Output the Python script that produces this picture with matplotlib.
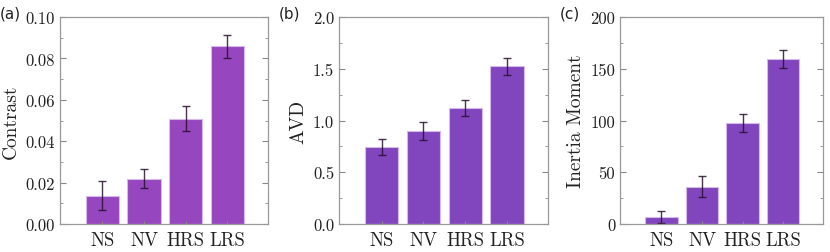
import matplotlib
matplotlib.use("Agg")
import matplotlib.pyplot as plt
import numpy as np
from matplotlib.ticker import MultipleLocator

plt.rcParams['font.family'] = 'serif'
plt.rcParams['font.serif'] = ['cmr10']
plt.rcParams['axes.formatter.use_mathtext'] = True
plt.rcParams['mathtext.fontset'] = 'cm'

categories = ["NS", "NV", "HRS", "LRS"]

contrast = [0.0137, 0.0218, 0.0508, 0.0858]
contrast_err = [0.0070, 0.0046, 0.0060, 0.0055]

avd = [0.742, 0.897, 1.123, 1.523]
avd_err = [0.080, 0.085, 0.075, 0.083]

inertia = [6.5, 36.1, 97.4, 159.7]
inertia_err = [6.0, 10.0, 8.5, 8.5]

panels = [
    ("(a)", "Contrast", contrast, contrast_err, (0, 0.10), 0.02, "#9646BE", lambda v, p: f"{v:.2f}"),
    ("(b)", "AVD", avd, avd_err, (0, 2.0), 0.5, "#8146BE", lambda v, p: f"{v:.1f}"),
    ("(c)", "Inertia Moment", inertia, inertia_err, (0, 200), 50, "#8146BE", lambda v, p: f"{v:.0f}"),
]

positions = [(60, 208), (339, 209), (620, 203)]
W, H = 830, 253
fig = plt.figure(figsize=(8.3, 2.53), dpi=100)

for (tag, ylabel, vals, errs, ylim, major, color, fmt), (x0, w) in zip(panels, positions):
    ax = fig.add_axes([x0 / W, 1 - 225 / H, w / W, 207 / H])
    x = np.arange(len(categories))
    ax.bar(x, vals, width=0.8, color=color, edgecolor="#d7b8ea", linewidth=0.8,
           yerr=errs, capsize=3,
           error_kw=dict(ecolor="#2a1030", elinewidth=1.0, capthick=1.0, alpha=0.85))
    ax.set_xlim(-1.02, 3.98)
    ax.set_ylim(*ylim)
    ax.set_xticks(x)
    ax.set_xticklabels(categories, fontsize=13.5, color="#222222")
    ax.yaxis.set_major_locator(MultipleLocator(major))
    ax.yaxis.set_minor_locator(MultipleLocator(major / 2))
    ax.yaxis.set_major_formatter(matplotlib.ticker.FuncFormatter(fmt))
    ax.tick_params(axis='y', which='both', direction='in', right=True, labelsize=12,
                   colors="#888888", labelcolor="#222222")
    ax.tick_params(axis='y', which='major', length=4)
    ax.tick_params(axis='y', which='minor', length=2.5)
    ax.tick_params(axis='x', direction='in', length=2.5, colors="#888888",
                   labelcolor="#222222", pad=5)
    for s in ax.spines.values():
        s.set_color("#999999")
        s.set_linewidth(0.9)
    ax.set_ylabel(ylabel, fontsize=14, color="#222222", labelpad=4)
    fig.text((x0 - 60) / W + 0.0, 1 - 14 / H, tag, fontsize=11, family="DejaVu Sans",
             color="#222222", va="center", ha="left")

fig.savefig("out.png", dpi=100)
